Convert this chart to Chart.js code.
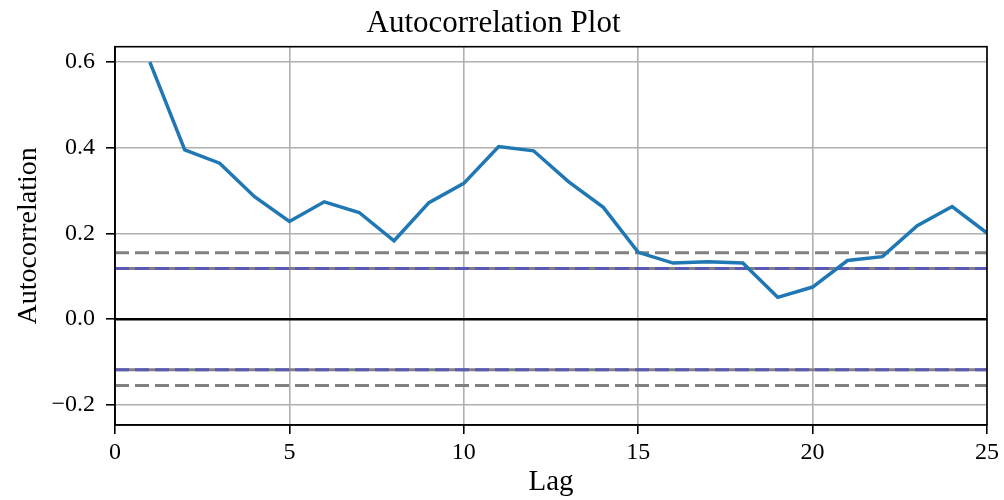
<!DOCTYPE html>
<html>
<head>
<meta charset="utf-8">
<script src="https://cdn.jsdelivr.net/npm/chart.js@4.4.0/dist/chart.umd.min.js"></script>
<style>
  html, body { margin: 0; padding: 0; background: #fff; }
  #wrap { width: 1004px; height: 500px; }
</style>
</head>
<body>
<div id="wrap"><canvas id="chart" width="1004" height="500"></canvas></div>
<script>
const LAGS = [1, 2, 3, 4, 5, 6, 7, 8, 9, 10, 11, 12, 13, 14, 15, 16, 17, 18, 19, 20, 21, 22, 23, 24, 25];
const ACF = [0.600, 0.395, 0.364, 0.286, 0.228, 0.274, 0.249, 0.183, 0.272, 0.317, 0.403, 0.393,
  0.321, 0.261, 0.156, 0.131, 0.134, 0.131, 0.051, 0.075, 0.137, 0.146, 0.218, 0.263, 0.201];

// confidence bands (95% / 99%)
const BAND95 = 0.118;
const BAND99 = 0.155;

const X_TICKS = [0, 5, 10, 15, 20, 25];
const Y_TICKS = [-0.2, 0.0, 0.2, 0.4, 0.6];
const X_RANGE = [0, 25];
const Y_RANGE = [-0.247, 0.636];

const FONT = '"Liberation Serif", "DejaVu Serif", serif';

// lower order = drawn later (on top)
function hline(y, color, width, dash, order) {
  return {
    data: X_RANGE.map((x) => ({ x, y })),
    borderColor: color,
    borderWidth: width,
    borderDash: dash || [],
    pointRadius: 0,
    tension: 0,
    order,
  };
}

const frame = {
  id: "frame",
  afterDatasetsDraw(chart) {
    const { ctx, chartArea: a } = chart;
    ctx.save();
    ctx.strokeStyle = "#000";
    ctx.lineWidth = 1.6;
    ctx.strokeRect(a.left, a.top, a.right - a.left, a.bottom - a.top);
    ctx.restore();
  },
};

const fmt = (v) => {
  const s = Math.abs(v).toFixed(1);
  return v < -1e-9 ? "\u2212" + s : s;
};

new Chart(document.getElementById("chart").getContext("2d"), {
  type: "line",
  data: {
    datasets: [
      hline(BAND99, "#808080", 3, [14, 6], 9),
      hline(BAND95, "#808080", 3, [], 9),
      hline(BAND95, "#5a5ab4", 3, [14, 6], 5),
      hline(0, "#000000", 2.5, [], 9),
      hline(-BAND95, "#808080", 3, [], 9),
      hline(-BAND95, "#5a5ab4", 3, [14, 6], 5),
      hline(-BAND99, "#808080", 3, [14, 6], 9),
      {
        data: LAGS.map((x, i) => ({ x, y: ACF[i] })),
        borderColor: "#1f77b4",
        borderWidth: 3.5,
        pointRadius: 0,
        tension: 0,
        order: 0,
      },
    ],
  },
  options: {
    responsive: false,
    animation: false,
    layout: { padding: { left: 0, right: 17, top: 0, bottom: 0 } },
    plugins: {
      legend: { display: false },
      tooltip: { enabled: false },
      title: {
        display: true,
        text: "Autocorrelation Plot",
        color: "#000",
        font: { family: FONT, size: 31, weight: "normal", lineHeight: 1.2 },
        padding: { top: 5, bottom: 4.5 },
      },
    },
    scales: {
      x: {
        type: "linear",
        min: X_RANGE[0],
        max: X_RANGE[1],
        afterBuildTicks: (s) => { s.ticks = X_TICKS.map((v) => ({ value: v })); },
        afterFit: (s) => { s.height = 75; },
        ticks: {
          color: "#000",
          padding: 4,
          maxRotation: 0,
          font: { family: FONT, size: 24 },
        },
        grid: { color: "#b0b0b0", lineWidth: 1.6, tickColor: "#000", tickLength: 9 },
        border: { color: "#000", width: 1.6 },
        title: {
          display: true,
          text: "Lag",
          color: "#000",
          font: { family: FONT, size: 29, lineHeight: 1.2 },
          padding: { top: 0, bottom: 0 },
        },
      },
      y: {
        type: "linear",
        min: Y_RANGE[0],
        max: Y_RANGE[1],
        afterBuildTicks: (s) => { s.ticks = Y_TICKS.map((v) => ({ value: v })); },
        afterFit: (s) => { s.width = 115; },
        ticks: {
          color: "#000",
          padding: 11,
          callback: (v) => fmt(v),
          font: { family: FONT, size: 24 },
        },
        grid: { color: "#b0b0b0", lineWidth: 1.6, tickColor: "#000", tickLength: 9 },
        border: { color: "#000", width: 1.6 },
        title: {
          display: true,
          text: "Autocorrelation",
          color: "#000",
          font: { family: FONT, size: 28, lineHeight: 1.2 },
          padding: { top: 12, bottom: 0 },
        },
      },
    },
  },
  plugins: [frame],
});
</script>
</body>
</html>
